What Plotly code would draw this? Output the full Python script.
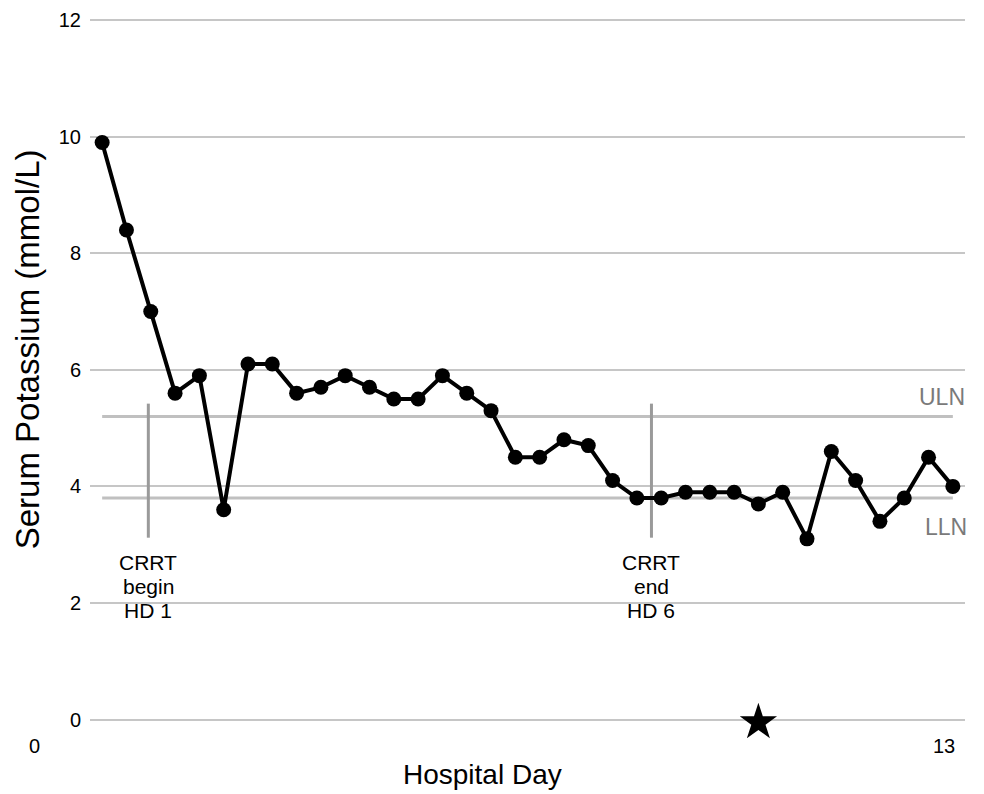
import plotly.graph_objects as go

potassium = [9.9, 8.4, 7.0, 5.6, 5.9, 3.6, 6.1, 6.1, 5.6, 5.7, 5.9, 5.7, 5.5, 5.5,
             5.9, 5.6, 5.3, 4.5, 4.5, 4.8, 4.7, 4.1, 3.8, 3.8, 3.9, 3.9, 3.9, 3.7,
             3.9, 3.1, 4.6, 4.1, 3.4, 3.8, 4.5, 4.0]
idx = list(range(len(potassium)))
uln = 5.2
lln = 3.8
crrt_x = [1.9, 22.6]
crrt_y = [3.12, 5.42]
crrt_lines = [["CRRT", "begin", "HD 1"], ["CRRT", "end", "HD 6"]]
crrt_line_y = [2.70, 2.29, 1.87]
star_x = 27
star_y = -0.05
y_ticks = [0, 2, 4, 6, 8, 10, 12]

FONT = "Liberation Sans, Arial, sans-serif"
fig = go.Figure()

# ULN / LLN reference lines
for v in (uln, lln):
    fig.add_trace(go.Scatter(x=[idx[0], idx[-1]], y=[v, v], mode="lines",
                             line=dict(color="#c0c0c0", width=3),
                             hoverinfo="skip", showlegend=False))
# CRRT vertical markers
for cx in crrt_x:
    fig.add_trace(go.Scatter(x=[cx, cx], y=crrt_y, mode="lines",
                             line=dict(color="#9a9a9a", width=3),
                             hoverinfo="skip", showlegend=False))

fig.add_trace(go.Scatter(x=idx, y=potassium, mode="lines+markers",
                         line=dict(color="black", width=4),
                         marker=dict(color="black", size=15),
                         showlegend=False))

fig.add_trace(go.Scatter(x=[star_x], y=[star_y], mode="markers",
                         marker=dict(symbol="star", color="black", size=28),
                         cliponaxis=False, showlegend=False))

for cx, lines in zip(crrt_x, crrt_lines):
    for ly, txt in zip(crrt_line_y, lines):
        fig.add_annotation(x=cx, y=ly, text=txt, showarrow=False,
                           yanchor="middle", xanchor="center",
                           font=dict(size=21, color="black", family=FONT))

fig.add_annotation(x=35.5, y=5.53, text="ULN", showarrow=False, xanchor="right",
                   xshift=2, yanchor="middle",
                   font=dict(size=23, color="#7a7a7a", family=FONT))
fig.add_annotation(x=35.5, y=3.30, text="LLN", showarrow=False, xanchor="right",
                   xshift=4, yanchor="middle",
                   font=dict(size=23, color="#7a7a7a", family=FONT))

fig.add_annotation(xref="paper", yref="paper", x=-0.063, y=-0.0125, text="0",
                   showarrow=False, xanchor="center", yanchor="middle",
                   font=dict(size=20, color="black", family=FONT))
fig.add_annotation(xref="paper", yref="paper", x=0.976, y=-0.0125, text="13",
                   showarrow=False, xanchor="center", yanchor="middle",
                   font=dict(size=20, color="black", family=FONT))

# axis titles (placed as in the reference, off-centre)
fig.add_annotation(xref="paper", yref="paper", x=0.449, y=-0.0529, text="Hospital Day",
                   showarrow=False, xanchor="center", yanchor="middle",
                   font=dict(size=28, color="black", family=FONT))
fig.add_annotation(xref="paper", yref="paper", x=-0.072, y=0.540,
                   text="Serum Potassium (mmol/L)", textangle=-90,
                   showarrow=False, xanchor="center", yanchor="middle",
                   font=dict(size=33, color="black", family=FONT))

fig.update_layout(
    width=976, height=786,
    margin=dict(l=82, r=19, t=11, b=57),
    plot_bgcolor="white", paper_bgcolor="white",
    font=dict(family=FONT, color="black"),
    xaxis=dict(range=[-0.5, 35.5], showticklabels=False, showgrid=False,
               zeroline=False, showline=False, ticks="", automargin=False),
    yaxis=dict(range=[-0.3, 12.02], tickvals=y_ticks, showgrid=True,
               gridcolor="#c6c6c6", gridwidth=1.5, zeroline=False, showline=False,
               ticks="outside", ticklen=4, tickcolor="white", automargin=False,
               tickfont=dict(size=20)),
)

fig.write_html("out.html")
